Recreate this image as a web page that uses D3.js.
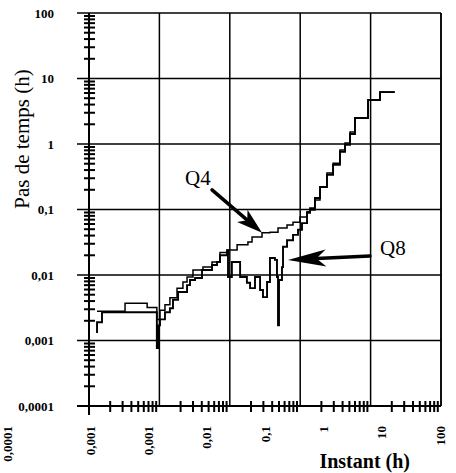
<!DOCTYPE html>
<html><head><meta charset="utf-8">
<script src="https://cdn.jsdelivr.net/npm/d3@7/dist/d3.min.js"></script>
<style>
html,body{margin:0;padding:0;background:#fff;}
svg{display:block;}
text{font-family:"Liberation Serif","Times New Roman",serif;fill:#000;}
</style></head>
<body>
<svg id="c" width="456" height="473"></svg>
<script>
// ---- data ----
const q4X = [0.0013,0.00325,0.0067,0.0092,0.0102,0.012,0.0141,0.0178,0.0216,0.0247,0.03,0.0416,0.0559,0.0726,0.0943,0.127,0.181,0.207,0.287,0.372,0.484,0.65,0.791,0.993,1.25,1.38,1.62,1.91,2.4,2.93,3.67,4.33,5.1,6.0,9.2,13.6,22];
const q4Y = [0.0028,0.0037,0.0032,0.0021,0.0029,0.0035,0.0045,0.0063,0.0078,0.0093,0.0119,0.0132,0.0158,0.022,0.024,0.029,0.032,0.038,0.044,0.045,0.052,0.058,0.064,0.077,0.092,0.098,0.14,0.22,0.36,0.51,0.81,1.04,1.52,2.5,4.7,6.2,6.2];
const q8X = [0.00126,0.0013,0.00153,0.0092,0.0096,0.0102,0.012,0.0141,0.0156,0.0184,0.0247,0.0272,0.0321,0.0403,0.0559,0.0658,0.0726,0.0912,0.0943,0.107,0.14,0.175,0.194,0.228,0.269,0.296,0.338,0.372,0.438,0.468,0.484,0.5,0.551,0.57,0.65,0.791,0.931,1.06,1.25,1.38,1.62,1.91,2.4,2.93,3.67,4.33,5.1,6.0,9.2,13.6,22];
const q8Y = [0.00135,0.0019,0.0027,0.00077,0.0017,0.0021,0.0027,0.0031,0.0042,0.0055,0.007,0.0084,0.009,0.0119,0.0142,0.0158,0.02,0.024,0.0093,0.0158,0.0093,0.0076,0.0063,0.0093,0.0059,0.0046,0.0078,0.0182,0.017,0.0093,0.0017,0.0084,0.0132,0.027,0.034,0.041,0.049,0.062,0.089,0.105,0.15,0.22,0.34,0.48,0.76,0.97,1.42,2.5,4.7,6.2,6.2];
const yTickLabels = ["0,0001","0,001","0,01","0,1","1","10","100"];
const xTickLabels = ["0,001","0,001","0,01","0,1","1","10","100"];
const xEdgeLabel = "0,0001";
const xTitle = "Instant (h)";
const yTitle = "Pas de temps (h)";
// annotations in data units
const annQ4 = {text:"Q4", lx:0.0231, ly:0.237, sx:0.0559, sy:0.199, tx:0.287, ty:0.044};
const annQ8 = {text:"Q8", lx:13.6, ly:0.0202, sx:9.8, sy:0.0195, tx:0.671, ty:0.017};

// ---- layout ----
const L=89, R=441, T=13, B=406;
const svg = d3.select("#c");
const x = d3.scaleLog().domain([0.001,100]).range([L,R]);
const y = d3.scaleLog().domain([0.0001,100]).range([B,T]);

const isDec = v => Math.abs(Math.log10(v)-Math.round(Math.log10(v)))<1e-9;
const xDec = x.ticks().filter(isDec);
const yDec = y.ticks().filter(isDec);
const xMinor = x.ticks().filter(v => !isDec(v));
const yMinor = y.ticks().filter(v => !isDec(v));

const g = svg.append("g");
g.selectAll("line.hg").data(yDec).join("line")
  .attr("x1",L-12).attr("x2",R).attr("y1",d=>y(d)).attr("y2",d=>y(d))
  .attr("stroke","#000").attr("stroke-width",1.5);
g.selectAll("line.vg").data(xDec).join("line")
  .attr("x1",d=>x(d)).attr("x2",d=>x(d)).attr("y1",T).attr("y2",d=> d===0.001 ? B+9 : B)
  .attr("stroke","#000").attr("stroke-width",1.5);
g.append("line").attr("x1",R).attr("x2",R).attr("y1",T).attr("y2",B).attr("stroke","#000").attr("stroke-width",1.5);

g.append("line").attr("x1",L).attr("x2",L).attr("y1",T).attr("y2",B+9).attr("stroke","#000").attr("stroke-width",2);
g.append("line").attr("x1",L-12).attr("x2",R).attr("y1",B).attr("y2",B).attr("stroke","#000").attr("stroke-width",2);

g.selectAll("line.ym").data(yMinor).join("line")
  .attr("x1",L-5).attr("x2",L+6).attr("y1",d=>y(d)).attr("y2",d=>y(d))
  .attr("stroke","#000").attr("stroke-width",2);
g.selectAll("line.xm").data(xMinor).join("line")
  .attr("x1",d=>x(d)).attr("x2",d=>x(d)).attr("y1",B-5).attr("y2",B+6)
  .attr("stroke","#000").attr("stroke-width",2);

g.selectAll("text.yl").data(yDec).join("text")
  .attr("x",L-35).attr("y",d=>y(d)).attr("dy","0.35em")
  .attr("text-anchor","end").attr("font-size",13).attr("font-weight","bold")
  .text((d,i)=>yTickLabels[i]);

const xl = d3.scalePoint().domain(d3.range(xTickLabels.length)).range([L+1,R-1]);
g.selectAll("text.xl").data(xTickLabels).join("text")
  .attr("transform",(d,i)=>`translate(${xl(i)},426) rotate(-90)`)
  .attr("dy","0.35em").attr("text-anchor","end")
  .attr("font-size",13).attr("font-weight","bold").text(d=>d);
g.append("text")
  .attr("transform",`translate(7,426) rotate(-90)`)
  .attr("dy","0.35em").attr("text-anchor","end")
  .attr("font-size",13).attr("font-weight","bold").text(xEdgeLabel);

g.append("text").attr("x",410).attr("y",468).attr("text-anchor","end")
  .attr("font-size",20).attr("font-weight","bold").text(xTitle);
g.append("text").attr("transform","translate(22,139) rotate(-90)")
  .attr("dy","0.35em").attr("text-anchor","middle").attr("font-size",21).text(yTitle);

svg.append("clipPath").attr("id","cp").append("rect").attr("x",L).attr("y",T).attr("width",R-L).attr("height",B-T);
const line = d3.line().x(d=>x(d[0])).y(d=>y(d[1])).curve(d3.curveStepAfter);
const series = [[q4X,q4Y,1.5],[q8X,q8Y,1.9]];
svg.append("g").attr("clip-path","url(#cp)").selectAll("path").data(series).join("path")
  .attr("d",s=>line(d3.zip(s[0],s[1])))
  .attr("fill","none").attr("stroke","#000").attr("stroke-width",s=>s[2]);

function arrow(a, headLen, headW){
  const x0=x(a.sx), y0=y(a.sy), x1=x(a.tx), y1=y(a.ty);
  const ang=Math.atan2(y1-y0,x1-x0), c=Math.cos(ang), s=Math.sin(ang);
  const bx=x1-headLen*c, by=y1-headLen*s;
  const nx=x1-headLen*0.75*c, ny=y1-headLen*0.75*s;
  svg.append("line").attr("x1",x0).attr("y1",y0).attr("x2",nx).attr("y2",ny)
    .attr("stroke","#000").attr("stroke-width",3.5).attr("stroke-linecap","round");
  const pts=[[x1,y1],[bx - headW*s, by + headW*c],[nx,ny],[bx + headW*s, by - headW*c]];
  svg.append("path").attr("d","M"+pts.map(p=>p.join(",")).join("L")+"Z").attr("fill","#000");
  svg.append("text").attr("x",x(a.lx)).attr("y",y(a.ly)).attr("font-size",21).text(a.text);
}
arrow(annQ4, 26, 8);
arrow(annQ8, 38, 8.5);
</script>
</body></html>
